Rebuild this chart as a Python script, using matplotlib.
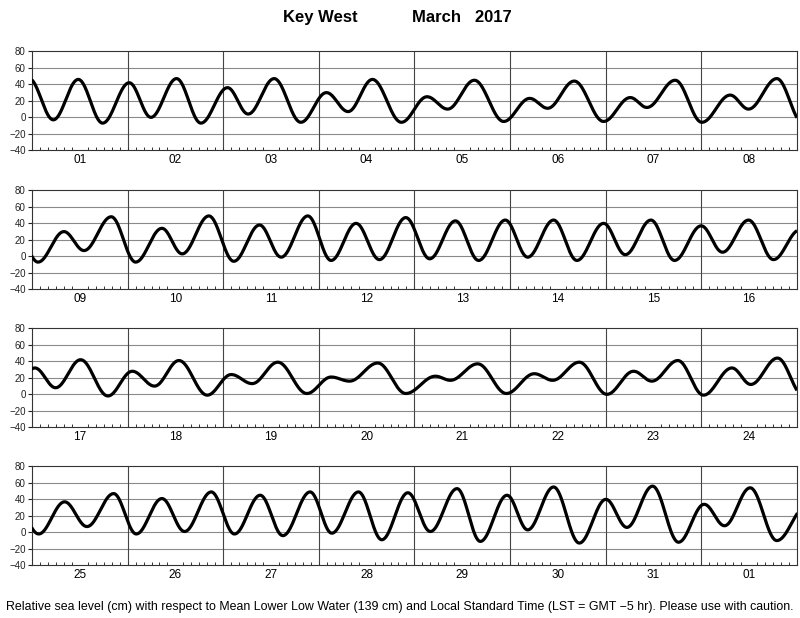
import numpy as np
import matplotlib
matplotlib.use("Agg")
import matplotlib.pyplot as plt

plt.rcParams['font.family'] = ['Liberation Sans', 'DejaVu Sans']

# high / low waters: time in days from Mar 1 00:00 LST, height in cm
ext_t = [-0.03, 0.223, 0.484, 0.739, 1.017, 1.244, 1.512, 1.767, 2.045, 2.261,
         2.533, 2.812, 3.080, 3.307, 3.561, 3.864, 4.132, 4.348, 4.627, 4.934,
         5.206, 5.394, 5.672, 5.979, 6.258, 6.432, 6.728, 7.007, 7.303, 7.495,
         7.791, 8.063, 8.334, 8.544, 8.829, 9.084, 9.359, 9.571, 9.850, 10.111,
         10.380, 10.606, 10.885, 11.129, 11.390, 11.634, 11.910, 12.160, 12.429, 12.672,
         12.951, 13.185, 13.456, 13.700, 13.979, 14.206, 14.474, 14.721, 15.000, 15.223,
         15.495, 15.756, 16.030, 16.247, 16.509, 16.794, 17.049, 17.282, 17.537, 17.833,
         18.084, 18.303, 18.571, 18.875, 19.129, 19.321, 19.617, 19.910, 20.220, 20.376,
         20.662, 20.962, 21.254, 21.446, 21.725, 22.014, 22.293, 22.484, 22.756, 23.024,
         23.321, 23.519, 23.798, 24.070, 24.341, 24.575, 24.854, 25.091, 25.359, 25.596,
         25.875, 26.118, 26.387, 26.624, 26.909, 27.136, 27.415, 27.659, 27.932, 28.167,
         28.446, 28.690, 28.969, 29.185, 29.456, 29.725, 30.003, 30.223, 30.491, 30.763,
         31.031, 31.244, 31.512, 31.791, 32.100]
ext_h = [47, -3, 46, -7, 42, 0, 47, -7, 36, 4,
         47, -6, 30, 7, 46, -6, 25, 10, 45, -5,
         23, 11, 44, -5, 24, 12, 45, -6, 27, 10,
         47, -7, 30, 7, 48, -7, 34, 3, 49, -6,
         38, -1, 49, -5, 40, -4, 47, -3, 43, -5,
         44, -1, 44, -5, 40, 2, 44, -5, 37, 5,
         44, -4, 32, 8, 42, -2, 28, 10, 41, -1,
         24, 13, 39, 1, 21, 16, 38, 1, 22, 17,
         37, 1, 25, 17, 39, 0, 28, 16, 41, -1,
         32, 12, 44, -2, 37, 7, 47, -2, 41, 1,
         49, -2, 45, -4, 49, -1, 49, -9, 48, 1,
         53, -11, 45, 3, 55, -13, 40, 6, 56, -12,
         34, 8, 54, -10, 32]

day_labels = ['01', '02', '03', '04', '05', '06', '07', '08',
              '09', '10', '11', '12', '13', '14', '15', '16',
              '17', '18', '19', '20', '21', '22', '23', '24',
              '25', '26', '27', '28', '29', '30', '31', '01']
y_ticks = [-40, -20, 0, 20, 40, 60, 80]

# tide curve: half cosine between successive high and low waters
tt, hh = [], []
for i in range(len(ext_t) - 1):
    s = np.linspace(0, 1, 40, endpoint=False)
    t0, t1 = ext_t[i], ext_t[i + 1]
    h0, h1 = ext_h[i], ext_h[i + 1]
    tt.extend(t0 + s * (t1 - t0))
    hh.extend((h0 + h1) / 2 + (h0 - h1) / 2 * np.cos(np.pi * s))
tt.append(ext_t[-1])
hh.append(ext_h[-1])

fig = plt.figure(figsize=(8, 6.18), dpi=100)
bottoms = [0.7568, 0.5319, 0.3086, 0.0853]

for p in range(4):
    ax = fig.add_axes([0.04, bottoms[p], 0.956, 0.160])
    d0 = 8 * p
    for y in y_ticks[1:-1]:
        ax.axhline(y, color='#8a8a8a', lw=0.8, zorder=1)
    for d in range(1, 8):
        ax.axvline(d0 + d, color='#444444', lw=0.8, zorder=1)
    ax.plot(tt, hh, color='black', lw=2.3, zorder=3, solid_capstyle='butt')
    ax.set_xlim(d0, d0 + 8)
    ax.set_ylim(-40, 80)
    ax.set_yticks(y_ticks)
    ax.tick_params(axis='y', direction='out', length=3, width=0.8,
                   labelsize=7, pad=1.5, colors='#222222')
    ax.set_xticks(np.arange(d0, d0 + 8) + 0.5)
    ax.set_xticklabels(day_labels[d0:d0 + 8])
    ax.tick_params(axis='x', length=0, labelsize=8.5, pad=3)
    ax.set_xticks(np.arange(d0 * 12, (d0 + 8) * 12 + 1) / 12, minor=True)
    ax.tick_params(axis='x', which='minor', direction='in', length=2.5,
                   width=0.7, color='#333333')
    for s in ax.spines.values():
        s.set_color('#333333')
        s.set_linewidth(0.8)

fig.text(0.401, 0.971, 'Key West', ha='center', va='center',
         fontsize=12, fontweight='bold')
fig.text(0.577, 0.971, 'March   2017', ha='center', va='center',
         fontsize=12, fontweight='bold')
fig.text(0.5, 0.018, 'Relative sea level (cm) with respect to Mean Lower Low Water '
         '(139 cm) and Local Standard Time (LST = GMT \u22125 hr). Please use with caution.',
         ha='center', va='center', fontsize=8.9)

fig.savefig('out.png', dpi=100)
